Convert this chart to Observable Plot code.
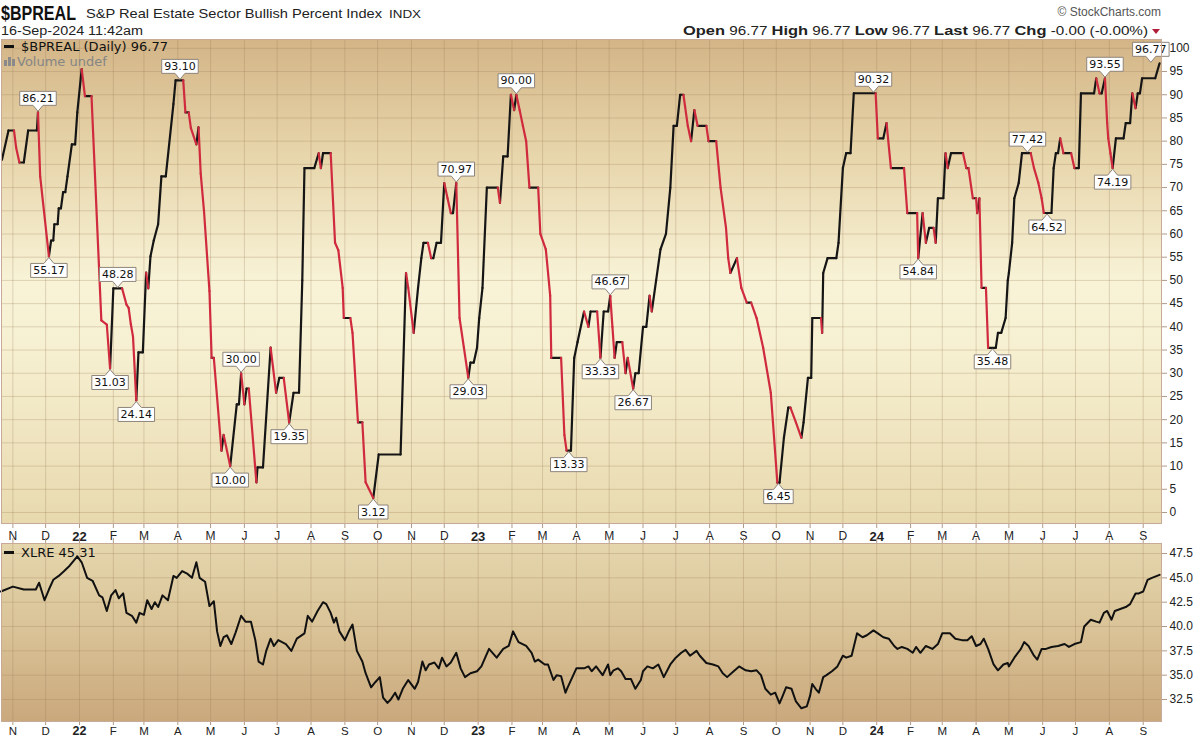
<!DOCTYPE html>
<html><head><meta charset="utf-8">
<script src="https://cdn.jsdelivr.net/npm/d3@7"></script>
<script src="https://cdn.jsdelivr.net/npm/@observablehq/plot@0.6"></script>
<style>
body{margin:0;background:#fff;}
#wrap{position:relative;width:1200px;height:738px;overflow:hidden;background:#fff;}
.abs{position:absolute;}
.leg{position:absolute;font-family:"DejaVu Sans",Verdana,sans-serif;font-size:13px;line-height:14px;color:#111;white-space:nowrap;z-index:5;}
.dash{display:inline-block;width:10px;height:3px;background:#111;vertical-align:middle;margin-right:7px;position:relative;top:-1px;}
.vb{display:inline-block;width:3px;background:#8a8a8a;margin-right:1px;vertical-align:baseline;}
</style></head><body><div id="wrap">
<svg id="hdr" class="abs" style="left:0;top:0" width="1200" height="38">
<text x="1" y="20" font-family="Liberation Sans Narrow, Liberation Sans, Arial, sans-serif" font-weight="700" font-size="20" textLength="75" lengthAdjust="spacingAndGlyphs" fill="#111">$BPREAL</text>
<text x="86" y="18" font-family="Liberation Sans, Arial, sans-serif" font-size="13.5" textLength="296" lengthAdjust="spacingAndGlyphs" fill="#222">S&amp;P Real Estate Sector Bullish Percent Index</text>
<text x="389" y="18" font-family="Liberation Sans, Arial, sans-serif" font-size="11" textLength="32" lengthAdjust="spacingAndGlyphs" fill="#222">INDX</text>
<text x="1" y="35" font-family="Liberation Sans, Arial, sans-serif" font-size="12.5" textLength="142" lengthAdjust="spacingAndGlyphs" fill="#222">16-Sep-2024 11:42am</text>
<text x="1161" y="16" text-anchor="end" font-family="Liberation Sans, Arial, sans-serif" font-size="12" fill="#555">© StockCharts.com</text>
<text x="1148" y="35" text-anchor="end" font-family="Liberation Sans, Arial, sans-serif" font-size="12.5" fill="#222" textLength="465" lengthAdjust="spacingAndGlyphs"><tspan font-weight="700" font-size="13.5">Open</tspan> 96.77 <tspan font-weight="700" font-size="13.5">High</tspan> 96.77 <tspan font-weight="700" font-size="13.5">Low</tspan> 96.77 <tspan font-weight="700" font-size="13.5">Last</tspan> 96.77 <tspan font-weight="700" font-size="13.5">Chg</tspan> -0.00 (-0.00%)</text>
<path d="M1152,29 L1160,29 L1156,34 Z" fill="#b01e3c"/>
</svg>
<div id="p1" class="abs" style="left:0;top:38px"></div>
<div id="p2" class="abs" style="left:0;top:537px"></div>
<div class="leg" style="left:4px;top:40px"><span class="dash"></span>$BPREAL (Daily) 96.77</div>
<div class="leg" style="left:4px;top:55px;color:#858585"><span class="vb" style="height:6px"></span><span class="vb" style="height:9px"></span><span class="vb" style="height:7px;margin-right:2px"></span>Volume undef</div>
<div class="leg" style="left:4px;top:546px"><span class="dash"></span>XLRE 45.31</div>
</div>
<script>
// ---------- data ----------
const bpDates = ["2021-10-22","2021-10-28","2021-11-02","2021-11-04","2021-11-07","2021-11-11","2021-11-15","2021-11-23","2021-11-24","2021-11-26",
"2021-12-04","2021-12-06","2021-12-08","2021-12-09","2021-12-12","2021-12-13","2021-12-15","2021-12-17","2021-12-19","2021-12-21","2021-12-25","2021-12-28","2021-12-30",
"2022-01-03","2022-01-06","2022-01-12","2022-01-21","2022-01-26","2022-01-29","2022-02-01","2022-02-09","2022-02-13","2022-02-15","2022-02-17","2022-02-19","2022-02-22","2022-02-24","2022-02-28",
"2022-03-03","2022-03-05","2022-03-07","2022-03-10","2022-03-14","2022-03-17","2022-03-21","2022-03-28","2022-03-30","2022-04-06","2022-04-08","2022-04-11","2022-04-13","2022-04-18","2022-04-20","2022-04-22","2022-04-25","2022-04-30",
"2022-05-02","2022-05-04","2022-05-11","2022-05-13","2022-05-19","2022-05-25","2022-05-27","2022-05-29","2022-06-01","2022-06-03","2022-06-05","2022-06-12","2022-06-13","2022-06-18","2022-06-25","2022-06-30",
"2022-07-03","2022-07-07","2022-07-12","2022-07-16","2022-07-21","2022-07-24","2022-07-26","2022-08-04","2022-08-08","2022-08-10","2022-08-12","2022-08-19","2022-08-23","2022-08-26","2022-08-30","2022-08-31",
"2022-09-06","2022-09-08","2022-09-13","2022-09-17","2022-09-20","2022-09-27","2022-10-02","2022-10-22","2022-10-27","2022-10-29","2022-11-03","2022-11-07","2022-11-10","2022-11-12","2022-11-16","2022-11-19","2022-11-21","2022-11-24","2022-11-28",
"2022-12-01","2022-12-04","2022-12-07","2022-12-09","2022-12-12","2022-12-15","2022-12-19","2022-12-23","2022-12-25","2022-12-28","2022-12-31",
"2023-01-02","2023-01-05","2023-01-09","2023-01-19","2023-01-21","2023-01-24","2023-01-28","2023-01-31","2023-02-03","2023-02-05","2023-02-08","2023-02-11","2023-02-14","2023-02-17","2023-02-25","2023-02-27",
"2023-03-04","2023-03-08","2023-03-09","2023-03-18","2023-03-21","2023-03-23","2023-03-27","2023-03-30","2023-04-02","2023-04-08","2023-04-12","2023-04-14","2023-04-20","2023-04-23","2023-04-26","2023-04-30",
"2023-05-02","2023-05-04","2023-05-06","2023-05-08","2023-05-13","2023-05-16","2023-05-18","2023-05-23","2023-05-25","2023-05-28","2023-06-01","2023-06-04","2023-06-07","2023-06-09","2023-06-13","2023-06-17","2023-06-22","2023-06-26","2023-06-29",
"2023-07-02","2023-07-05","2023-07-08","2023-07-12","2023-07-15","2023-07-18","2023-07-21","2023-07-29","2023-07-31","2023-08-07","2023-08-11","2023-08-16","2023-08-18","2023-08-20","2023-08-26","2023-08-30",
"2023-09-04","2023-09-08","2023-09-13","2023-09-19","2023-09-26","2023-10-02","2023-10-04","2023-10-08","2023-10-12","2023-10-14","2023-10-19","2023-10-24","2023-10-26","2023-10-30",
"2023-11-02","2023-11-03","2023-11-11","2023-11-12","2023-11-13","2023-11-17","2023-11-25","2023-11-27","2023-12-01","2023-12-04","2023-12-08","2023-12-11","2023-12-31",
"2024-01-02","2024-01-07","2024-01-10","2024-01-14","2024-01-26","2024-01-29","2024-02-07","2024-02-08","2024-02-12","2024-02-15","2024-02-18","2024-02-22","2024-02-24","2024-02-26",
"2024-03-02","2024-03-04","2024-03-06","2024-03-09","2024-03-20","2024-03-23","2024-03-25","2024-03-29","2024-04-01","2024-04-02","2024-04-04","2024-04-06","2024-04-10","2024-04-12","2024-04-19","2024-04-21","2024-04-24","2024-04-28","2024-04-30",
"2024-05-01","2024-05-04","2024-05-06","2024-05-10","2024-05-13","2024-05-21","2024-05-24","2024-05-28","2024-05-31","2024-06-02","2024-06-09","2024-06-11","2024-06-13","2024-06-15","2024-06-17","2024-06-20","2024-06-27","2024-06-30",
"2024-07-04","2024-07-06","2024-07-18","2024-07-20","2024-07-23","2024-07-25","2024-07-28","2024-07-30","2024-07-31","2024-08-02","2024-08-04","2024-08-07","2024-08-14","2024-08-16","2024-08-20","2024-08-22","2024-08-25","2024-08-27","2024-08-29","2024-08-31","2024-09-12","2024-09-16"];
const bpValues = [76,82.3,82.3,78.6,75.4,75.4,82.3,82.3,86.21,72.4,
55.17,58.6,58.6,62.1,62.1,65.5,65.5,69,69,72.4,79.3,79.3,86.2,
95.5,89.7,89.7,41.4,40.5,31.03,48.28,48.28,44.8,44.1,40.6,37.9,24.14,34.5,34.5,
51.7,48.3,55.2,58.6,62.1,72.4,72.4,88,93.1,93.1,86.2,86.2,82.8,79.3,83,73,65,47.7,
33.3,33.3,13.3,16.7,10,23.3,23.3,30,23.3,26.7,26.7,6.5,9.7,9.7,35.5,25.8,
29,29,19.35,25.8,25.8,50,74.2,74.2,77.4,74.2,77.4,77.4,58.1,56.5,48.4,41.9,
41.9,38.7,19.4,19.4,6.5,3.12,12.5,12.5,51.6,48.4,38.7,48.4,54.8,58.1,58.1,54.8,54.8,58.1,58.1,
70.97,67.7,64.5,64.5,70.97,41.9,35.5,29.03,32.3,32.3,35.5,
41.9,48.4,70,70,66.7,76.7,76.7,90,86.7,90,86.7,83.3,80,70,70,60,
56.7,46.7,33.3,33.3,16.7,13.33,13.33,33.3,36.7,43.3,40,43.3,43.3,33.33,43.3,43.3,
46.67,40,33.3,36.7,36.7,30,33.3,26.67,30,30,40,40,46.7,43.3,50,56.7,60,70,83.3,
83.3,90,90,83.3,80,86.7,83.3,83.3,80,80,70,61.3,54.8,51.6,54.8,48.4,
45.2,45.2,41.9,35.5,25.8,6.45,6.45,16.1,22.6,22.6,19.4,16.1,19.4,29,
29,41.9,41.9,38.7,51.6,54.8,54.8,58.1,74.2,77.4,77.4,90.32,90.32,
80.6,80.6,83.9,74.2,74.2,64.5,64.5,54.84,64.5,58.1,61.3,61.3,58.1,67.7,
67.7,77.4,74.2,77.4,77.4,74.2,74.2,67.7,67.7,64.5,67.7,48.4,48.4,35.48,35.48,38.7,38.7,41.9,50,
51.6,58.1,67.7,71,77.42,77.42,74.2,71,67.7,64.52,64.52,74.2,77.4,77.4,80.6,77.4,77.4,74.2,
74.2,90.3,90.3,93.55,90.3,90.3,93.55,83.9,80.6,77.4,74.19,80.6,80.6,83.9,83.9,90.3,87.1,90.3,90.3,93.55,93.55,96.77];

const calloutDates = ["2021-11-24","2021-12-04","2022-02-05","2022-01-29","2022-02-22","2022-04-03","2022-05-19","2022-05-29","2022-07-12","2022-09-27","2022-12-12","2022-12-23","2023-02-05","2023-03-25","2023-05-02","2023-04-23","2023-05-23","2023-10-03","2023-12-29","2024-02-08","2024-04-16","2024-05-18","2024-06-05","2024-07-28","2024-08-04","2024-09-08"];
const calloutValues = [86.21,55.17,48.28,31.03,24.14,93.10,10.00,30.00,19.35,3.12,70.97,29.03,90.00,13.33,46.67,33.33,26.67,6.45,90.32,54.84,35.48,77.42,64.52,93.55,74.19,96.77];
const calloutSide = ["above","below","above","below","below","above","below","above","below","below","above","below","above","below","above","below","below","below","above","below","below","above","below","above","below","above"];

const xlDates = ["2021-10-21","2021-11-01","2021-11-11","2021-11-22","2021-11-25","2021-11-30","2021-12-04","2021-12-08","2021-12-13","2021-12-18","2021-12-23","2021-12-30",
"2022-01-03","2022-01-08","2022-01-13","2022-01-19","2022-01-22","2022-01-26","2022-01-30","2022-02-03","2022-02-06","2022-02-10","2022-02-13","2022-02-18","2022-02-22","2022-02-25",
"2022-03-01","2022-03-04","2022-03-08","2022-03-11","2022-03-14","2022-03-18","2022-03-23","2022-03-28","2022-03-31","2022-04-05","2022-04-10","2022-04-14","2022-04-18","2022-04-21","2022-04-26","2022-04-30",
"2022-05-04","2022-05-07","2022-05-10","2022-05-13","2022-05-16","2022-05-20","2022-05-24","2022-05-29","2022-06-02","2022-06-07","2022-06-11","2022-06-14","2022-06-18","2022-06-21","2022-06-25","2022-06-28",
"2022-07-02","2022-07-09","2022-07-14","2022-07-19","2022-07-26","2022-07-29","2022-08-02","2022-08-07","2022-08-12","2022-08-15","2022-08-19","2022-08-22","2022-08-24","2022-08-27",
"2022-09-01","2022-09-05","2022-09-08","2022-09-12","2022-09-17","2022-09-20","2022-09-25","2022-09-29","2022-10-03","2022-10-06","2022-10-10","2022-10-13","2022-10-17","2022-10-20","2022-10-24","2022-10-29",
"2022-11-04","2022-11-07","2022-11-11","2022-11-14","2022-11-17","2022-11-22","2022-11-26","2022-11-29","2022-12-03","2022-12-07","2022-12-12","2022-12-16","2022-12-20","2022-12-25","2022-12-31",
"2023-01-04","2023-01-11","2023-01-18","2023-01-24","2023-01-29","2023-02-02","2023-02-07","2023-02-14","2023-02-19","2023-02-22","2023-02-25","2023-03-03","2023-03-06","2023-03-11","2023-03-14","2023-03-18","2023-03-22","2023-03-24",
"2023-04-01","2023-04-08","2023-04-12","2023-04-15","2023-04-19","2023-04-25","2023-04-30","2023-05-02","2023-05-05","2023-05-09","2023-05-12","2023-05-16","2023-05-21","2023-05-25","2023-05-30",
"2023-06-01","2023-06-05","2023-06-10","2023-06-15","2023-06-20","2023-06-26","2023-07-01","2023-07-06","2023-07-10","2023-07-14","2023-07-20","2023-07-23","2023-07-29",
"2023-08-04","2023-08-09","2023-08-13","2023-08-17","2023-08-23","2023-08-28","2023-09-03","2023-09-08","2023-09-13","2023-09-17","2023-09-21","2023-09-26","2023-09-30",
"2023-10-04","2023-10-07","2023-10-10","2023-10-15","2023-10-19","2023-10-24","2023-10-29","2023-11-01","2023-11-03","2023-11-06","2023-11-09","2023-11-13","2023-11-16","2023-11-21","2023-11-26",
"2023-12-01","2023-12-04","2023-12-09","2023-12-14","2023-12-19","2023-12-23","2023-12-29","2024-01-02","2024-01-07","2024-01-12","2024-01-17","2024-01-20","2024-01-24","2024-01-29",
"2024-02-03","2024-02-06","2024-02-10","2024-02-15","2024-02-21","2024-02-26","2024-03-01","2024-03-08","2024-03-13","2024-03-19","2024-03-24","2024-03-28",
"2024-04-01","2024-04-05","2024-04-08","2024-04-12","2024-04-17","2024-04-21","2024-04-26","2024-04-30","2024-05-01","2024-05-06","2024-05-12","2024-05-15","2024-05-19","2024-05-24","2024-05-27","2024-05-31",
"2024-06-04","2024-06-09","2024-06-15","2024-06-21","2024-06-25","2024-06-30","2024-07-06","2024-07-09","2024-07-15","2024-07-20","2024-07-23","2024-07-27","2024-07-30",
"2024-08-03","2024-08-06","2024-08-11","2024-08-16","2024-08-20","2024-08-25","2024-08-28","2024-09-01","2024-09-05","2024-09-09","2024-09-16"];
const xlValues = [43.6,44.1,43.8,43.8,44.5,42.7,43.8,44.8,45.2,45.7,46.25,47.2,
46.6,45,44.7,43.2,43,41.6,43.2,43.75,42.9,43.4,41.4,41.1,40.4,41.4,
41.2,42.7,41.8,42.5,42,43.2,42.7,45.2,45,45.7,45.4,45,46.6,45,44.6,42.1,
42.6,39.5,38,38.9,39.1,38.2,39.4,41.1,40.5,40.5,38.6,36.4,36.1,37.5,38.75,38,
38.6,38.2,37.5,38.75,39.3,41.1,40.5,41.6,42.5,42.3,41.4,40.4,40.9,39.5,
38.6,39.6,40.2,37.5,36.4,35.2,33.75,34.3,34.8,32.7,32.15,32.5,33.2,32.5,33.6,34.5,
33.6,34.3,36.4,35.5,36.1,36.3,35.7,36.8,35.9,36.3,37.3,35.7,34.8,35.2,35.4,
35.9,37.7,36.8,37.7,38,39.5,38.4,38,37.3,36.4,36.6,36.1,36.1,34.5,35,34.9,33.2,33.75,
35.7,35.7,35.9,35.4,35.9,35,36.1,35,35.5,35.7,35.4,34.6,34.6,33.6,34.5,
35.4,35.9,35.7,36.1,34.8,36.1,36.8,37.3,37.6,37,37.5,37,36.25,
36.1,35.9,35.2,34.8,35.4,35.9,35.5,35.4,35.5,35,33.6,33,33.2,
32.1,32.9,33.75,33.6,32.3,31.6,31.8,32.9,34.1,33.6,33.2,34.8,35,35.4,35.9,
37,36.8,37,39.3,38.9,39.1,39.6,39.3,38.9,38.75,38,37.7,37.9,37.7,
37.3,37.9,37.3,38,37.7,38.2,39.3,39.3,38.75,38.6,38.6,39,
38,38.2,38.75,37.7,36.1,35.5,36.1,36.25,35.9,36.8,37.7,38.4,38,37,36.6,37.7,
37.7,37.9,38,38.2,37.9,38.2,38.4,40,40.7,40.5,40.4,41.4,41.6,
40.7,41.6,41.8,42,42.3,43.4,43.4,43.6,44.8,45,45.31];

const monthLetters = ["J","F","M","A","M","J","J","A","S","O","N","D"];
const bpTicks = [0,5,10,15,20,25,30,35,40,45,50,55,60,65,70,75,80,85,90,95,100];
const xlTicks = [32.5,35,37.5,40,42.5,45,47.5];

// ---------- build ----------
const monthTicks = d3.utcMonths(new Date(Date.UTC(2021,10,1)), new Date(Date.UTC(2024,8,2)));
const fmtMonth = d => d.getUTCMonth() === 0 ? String(d.getUTCFullYear()).slice(2) : monthLetters[d.getUTCMonth()];
const xDomain = [new Date("2021-10-21T14:00:00Z"), new Date("2024-09-17T18:00:00Z")];

const bp = bpDates.map((d, i) => ({date: new Date(d), value: bpValues[i]}));
const segs = bp.slice(1).map((p, i) => ({x1: bp[i].date, y1: bp[i].value, x2: p.date, y2: p.value, down: p.value < bp[i].value}));
const callouts = calloutDates.map((d, i) => ({date: new Date(d), value: calloutValues[i], side: calloutSide[i], label: calloutValues[i].toFixed(2)}));
const sideByLabel = new Map(callouts.map(c => [c.label, c.side]));
const xl = xlDates.map((d, i) => ({date: new Date(d), value: xlValues[i]}));

const gridStyle = {stroke: "#9c7a55", strokeOpacity: 0.28, strokeWidth: 1};
const baseStyle = {background: "transparent", fontFamily: "'Liberation Sans', Arial, sans-serif", fontSize: "12px", color: "#b09a86", overflow: "visible"};
const CALL_DY = 14;

const yLow = [30.24, 48.53];
const lowTop = yLow[1], lowTick = yLow[1] + (yLow[1] - yLow[0]) * 5 / 178;

const p1 = Plot.plot({
  width: 1200, height: 505, marginTop: 1, marginBottom: 20, marginLeft: 1, marginRight: 39,
  style: baseStyle,
  x: {type: "utc", domain: xDomain, ticks: monthTicks, tickFormat: fmtMonth, tickSize: 5, tickPadding: 3, label: null},
  y: {domain: [-2.37, 101.9], axis: "right", ticks: bpTicks, tickSize: 5, tickPadding: 3, label: null},
  marks: [
    Plot.frame({fill: "#f3ecd0"}),
    Plot.ruleX(monthTicks, gridStyle),
    Plot.ruleY(bpTicks, gridStyle),
    Plot.link(segs.filter(s => !s.down), {x1: "x1", y1: "y1", x2: "x2", y2: "y2", stroke: "#151515", strokeWidth: 2.2, strokeLinecap: "round"}),
    Plot.link(segs.filter(s => s.down), {x1: "x1", y1: "y1", x2: "x2", y2: "y2", stroke: "#d02a3e", strokeWidth: 2.2, strokeLinecap: "round"}),
    Plot.text(callouts.filter(c => c.side === "above"), {x: "date", y: "value", text: "label", dy: -CALL_DY, fontFamily: "DejaVu Sans, Verdana, sans-serif", fontSize: 11, fill: "#111"}),
    Plot.text(callouts.filter(c => c.side === "below"), {x: "date", y: "value", text: "label", dy: CALL_DY, fontFamily: "DejaVu Sans, Verdana, sans-serif", fontSize: 11, fill: "#111"}),
    Plot.frame({stroke: "#c8aa98"})
  ]
});

const p2 = Plot.plot({
  width: 1200, height: 201, marginTop: 6, marginBottom: 17, marginLeft: 1, marginRight: 39,
  style: baseStyle,
  x: {type: "utc", domain: xDomain, ticks: monthTicks, tickFormat: fmtMonth, tickSize: 4, tickPadding: 1, label: null},
  y: {domain: yLow, axis: "right", ticks: xlTicks, tickFormat: d => d.toFixed(1), tickSize: 5, tickPadding: 3, label: null},
  marks: [
    Plot.frame({fill: "#d8c095"}),
    Plot.ruleX(monthTicks, gridStyle),
    Plot.ruleY(xlTicks, gridStyle),
    Plot.ruleX(monthTicks, {y1: lowTop, y2: lowTick, stroke: "#b09a86"}),
    Plot.line(xl, {x: "date", y: "value", stroke: "#111", strokeWidth: 2, strokeLinejoin: "round"}),
    Plot.frame({stroke: "#c8aa98"})
  ]
});

document.getElementById("p1").appendChild(p1);
document.getElementById("p2").appendChild(p2);

const NS = "http://www.w3.org/2000/svg";
function addGradient(svg, id, stops) {
  const defs = document.createElementNS(NS, "defs");
  defs.innerHTML = `<linearGradient id="${id}" x1="0" y1="0" x2="0" y2="1">` +
    stops.map(s => `<stop offset="${s[0]}" stop-color="${s[1]}"/>`).join("") + `</linearGradient>`;
  svg.insertBefore(defs, svg.firstChild);
  const el = svg.querySelectorAll('[aria-label="frame"]')[0];
  if (el) {
    el.setAttribute("fill", `url(#${id})`);
    el.querySelectorAll && el.querySelectorAll("rect").forEach(r => r.setAttribute("fill", `url(#${id})`));
  }
}
addGradient(p1, "gMain", [[0, "#d3b587"], [0.22, "#e6d3a8"], [0.5, "#f8f3d7"], [0.62, "#f7f1d3"], [1, "#e8d9ae"]]);
addGradient(p2, "gLow", [[0, "#e5d6ad"], [0.5, "#d9c296"], [1, "#c9a87c"]]);

function styleAxes(svg) {
  svg.querySelectorAll('g[aria-label*="axis"] text').forEach(t => {
    t.setAttribute("fill", "#222");
    if (/^\d\d$/.test(t.textContent) && t.closest('g[aria-label^="x-axis"]')) {
      t.setAttribute("font-weight", "bold");
      t.setAttribute("font-size", "13");
    }
  });
}
styleAxes(p1); styleAxes(p2);
p2.querySelectorAll('g[aria-label^="x-axis"] text').forEach(t => { t.setAttribute("font-size", /^\d\d$/.test(t.textContent) ? "12.5" : "11.5"); });

function bubbles(svg) {
  const texts = Array.from(svg.querySelectorAll("text")).filter(t => sideByLabel.has(t.textContent.trim()));
  texts.forEach(t => {
    const side = sideByLabel.get(t.textContent.trim());
    const dy = side === "above" ? -CALL_DY : CALL_DY;
    const bb = t.getBBox();
    const ax = bb.x + bb.width / 2;
    const ay = bb.y + bb.height / 2;
    const L = bb.x - 2.5, R = bb.x + bb.width + 2.5, T = bb.y - 0.5, B = bb.y + bb.height + 0.5;
    let d;
    if (dy < 0) { const tip = Math.max(ay - dy - 1, B + 4); d = `M${L},${T}H${R}V${B}H${ax + 5}L${ax},${tip}L${ax - 5},${B}H${L}Z`; }
    else { const tip = Math.min(ay - dy + 1, T - 4); d = `M${L},${T}H${ax - 5}L${ax},${tip}L${ax + 5},${T}H${R}V${B}H${L}Z`; }
    const p = document.createElementNS(NS, "path");
    p.setAttribute("d", d);
    p.setAttribute("fill", "#ffffff");
    p.setAttribute("stroke", "#8e847b");
    p.setAttribute("stroke-width", "1");
    p.setAttribute("stroke-linejoin", "miter");
    const tr = t.getAttribute("transform");
    if (tr) p.setAttribute("transform", tr);
    t.parentNode.insertBefore(p, t);
  });
}
bubbles(p1);
</script>
</body></html>
